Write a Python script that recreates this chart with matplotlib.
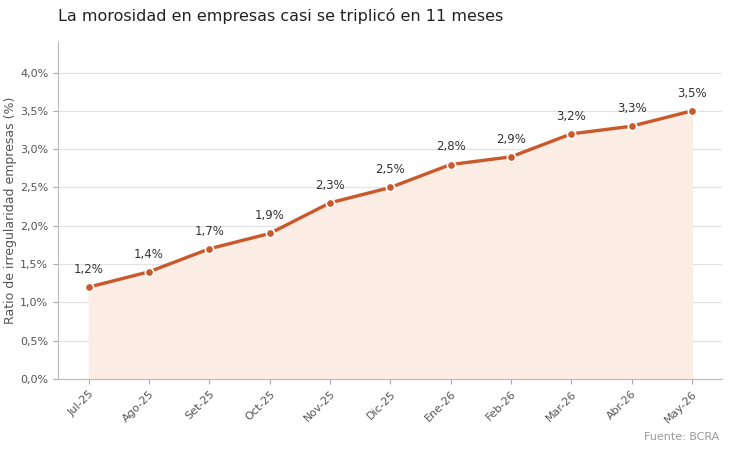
import numpy as np
from matplotlib import pyplot as plt
from matplotlib.ticker import FuncFormatter

# data
months = ["Jul-25", "Ago-25", "Set-25", "Oct-25", "Nov-25", "Dic-25",
          "Ene-26", "Feb-26", "Mar-26", "Abr-26", "May-26"]
ratio = [1.2, 1.4, 1.7, 1.9, 2.3, 2.5, 2.8, 2.9, 3.2, 3.3, 3.5]

line_color = "#C9592B"
fill_color = "#FBECE4"

fig = plt.figure(figsize=(7.3, 4.51), dpi=100)
ax = fig.add_axes([0.0795, 0.1596, 0.9095, 0.7474])

x = np.arange(len(months))
ax.fill_between(x, 0, ratio, color=fill_color, zorder=1)
ax.plot(x, ratio, color=line_color, lw=2.4, marker="o", markersize=6,
        markerfacecolor=line_color, markeredgecolor="white", markeredgewidth=1.2, zorder=3)

for xi, v in zip(x, ratio):
    ax.annotate(f"{v:.1f}%".replace(".", ","), (xi, v), xytext=(0, 8),
                textcoords="offset points", ha="center", va="bottom",
                fontsize=8.5, color="#333333")

ax.set_xlim(-0.51, 10.5)
ax.set_ylim(0, 4.4)
ax.set_yticks(np.arange(0, 4.01, 0.5))
ax.yaxis.set_major_formatter(FuncFormatter(lambda v, p: f"{v:.1f}%".replace(".", ",")))
ax.set_xticks(x)
ax.set_xticklabels(months, rotation=45, ha="right", rotation_mode="anchor")
ax.tick_params(colors="#555555", labelsize=8)
ax.tick_params(axis="both", color="#aaaaaa")

ax.grid(axis="y", color="#e3e3e3", lw=0.9, zorder=0)
ax.set_axisbelow(True)
for s in ["top", "right"]:
    ax.spines[s].set_visible(False)
for s in ["left", "bottom"]:
    ax.spines[s].set_color("#bbbbbb")

ax.set_ylabel("Ratio de irregularidad empresas (%)", fontsize=9, color="#555555", labelpad=2)

fig.text(0.0795, 0.965, "La morosidad en empresas casi se triplicó en 11 meses",
         fontsize=11.5, color="#222222", va="center", ha="left")
fig.text(0.985, 0.03, "Fuente: BCRA", fontsize=8, color="#999999", ha="right", va="center")

fig.savefig("out.png", dpi=100)
